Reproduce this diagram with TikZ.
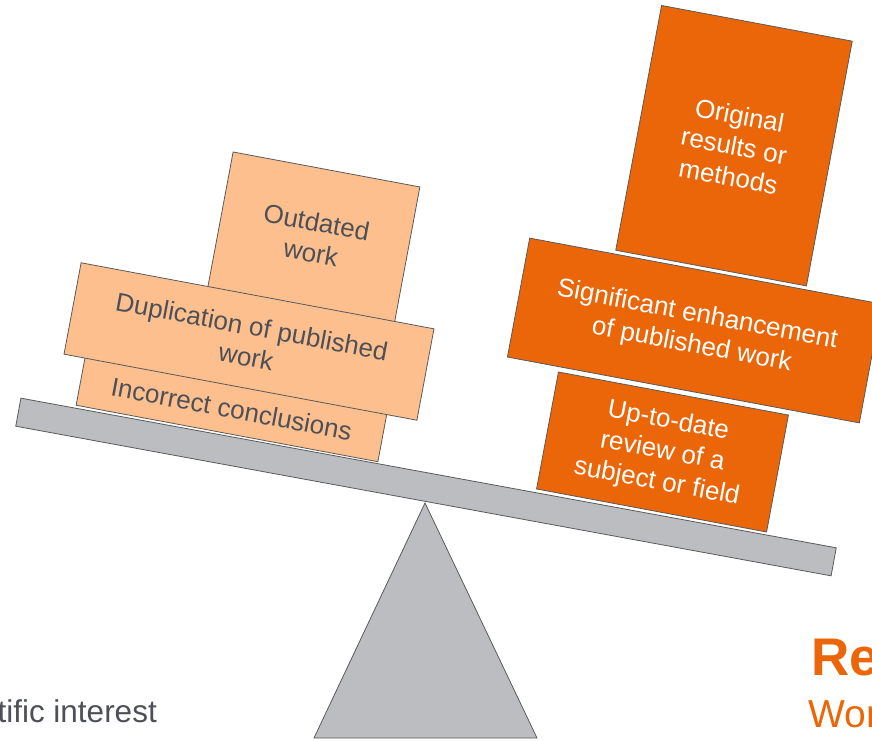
\documentclass[tikz,border=0pt]{standalone}
\usepackage{fontspec}
\setmainfont{Liberation Sans}
\usepackage{xcolor}
\usepackage{tikz}

\definecolor{darkorange}{HTML}{EB6608}
\definecolor{lightorange}{HTML}{FDBF8E}
\definecolor{beamgray}{HTML}{BCBDC0}
\definecolor{textgray}{HTML}{4D5157}
\definecolor{edgegray}{HTML}{5A5A5A}

\tikzset{
  block/.style={draw=edgegray, line width=0.8pt, rotate=-10.6, align=center,
    inner sep=0pt, font=\fontsize{26}{31}\selectfont},
  weak/.style={block, fill=lightorange, text=textgray},
  strong/.style={block, fill=darkorange, text=white},
  caption/.style={inner sep=0pt},
}

\begin{document}
\begin{tikzpicture}[x=1pt,y=1pt]
\useasboundingbox (0,0) rectangle (872,740);
\clip (0,0) rectangle (872,740);

% pivot and beam
\draw[edgegray, fill=beamgray, line width=0.8pt] (314,2) -- (425,237) -- (537,2) -- cycle;
\node[draw=edgegray, fill=beamgray, line width=0.8pt, rotate=-10.4,
  minimum width=829, minimum height=28.5] (beam) at (426,253) {};

% left pan
\node[weak, minimum width=190, minimum height=138] (outdated) at (313.8,502.7) {Outdated\\work};
\node[weak, minimum width=307, minimum height=50] (incorrect) at (231.6,331.1) {Incorrect conclusions};
\node[weak, minimum width=359, minimum height=93] (duplication) at (249,398.5) {Duplication of published\\work};

% right pan
\node[strong, minimum width=234, minimum height=119] (review) at (662.5,288) {Up-to-date\\review of a\\subject or field};
\node[strong, minimum width=358, minimum height=121] (enhancement) at (694.5,409.5) {Significant enhancement\\of published work};
\node[strong, minimum width=194, minimum height=249] (original) at (734,594.3) {Original\\results or\\methods};

% side captions
\node[caption, anchor=base east, text=textgray, font=\fontsize{31.5}{37}\selectfont] (interest) at (157,18) {tific interest};
\node[caption, anchor=base west, text=darkorange, font=\fontsize{53}{60}\selectfont\bfseries] (heading) at (811,65) {Re};
\node[caption, anchor=base west, text=darkorange, font=\fontsize{39}{46}\selectfont] (subheading) at (808,13) {Wor};
\end{tikzpicture}
\end{document}
